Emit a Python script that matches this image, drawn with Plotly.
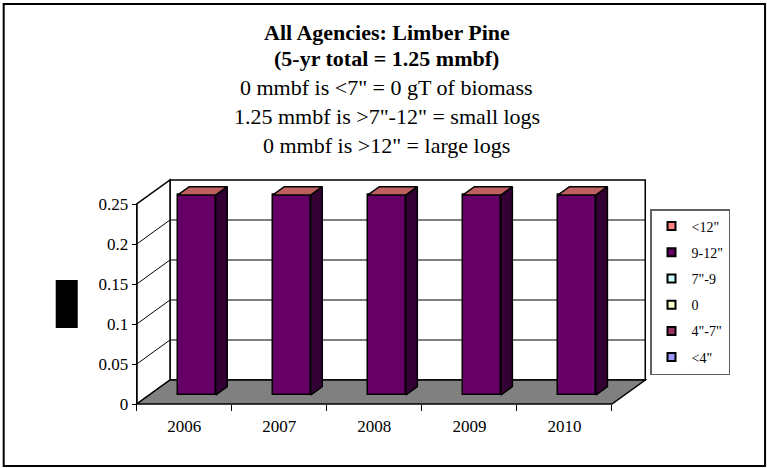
import plotly.graph_objects as go

# ---- data -------------------------------------------------------------
years = ["2006", "2007", "2008", "2009", "2010"]

# legend order (top of stack first), same as the original chart
series_names = ['<12"', '9-12"', '7"-9', '0', '4"-7"', '<4"']
series_colors = ["#FF8080", "#660066", "#CCFFFF", "#FFFFCC", "#993366", "#9999FF"]
gt12 = [0, 0, 0, 0, 0]
d9_12 = [0.25, 0.25, 0.25, 0.25, 0.25]
d7_9 = [0, 0, 0, 0, 0]
zero = [0, 0, 0, 0, 0]
d4_7 = [0, 0, 0, 0, 0]
lt4 = [0, 0, 0, 0, 0]
series_values = [gt12, d9_12, d7_9, zero, d4_7, lt4]

yticks = [0, 0.05, 0.1, 0.15, 0.2, 0.25]
ytext = ["0", "0.05", "0.1", "0.15", "0.2", "0.25"]

title_lines = [
    ("<b>All Agencies: Limber Pine</b>", 32),
    ("<b>(5-yr total = 1.25 mmbf)</b>", 59),
    ('0 mmbf is <7" = 0 gT of biomass', 87),
    ('1.25 mmbf is >7"-12" = small logs', 116),
    ('0 mmbf is >12" = large logs', 145),
]

# ---- geometry ---------------------------------------------------------
W, H = 767, 468
FONT = "Liberation Serif, Times New Roman, serif"
X0_PX, Y0_PX = 137, 404          # pixel of x=0 / y=0
PPX, PPY = 95.0, 800.0           # pixels per unit
XR = [-0.05, 5.40]
YR = [-0.005, 0.285]
ML = X0_PX + XR[0] * PPX
MR = W - (X0_PX + XR[1] * PPX)
MT = Y0_PX - YR[1] * PPY
MB = H - (Y0_PX - YR[0] * PPY)
PW, PH = W - ML - MR, H - MT - MB


def pxx(px):
    return (px - ML) / PW


def pxy(py):
    return (H - MB - py) / PH


DX, DY = 0.35, 0.03              # 3d depth of the walls
F0, FD = 0.37, 0.35              # bar front position / bar depth (fraction)
BW = 0.4
ncat = len(years)
ytop = yticks[-1]


def shade(hexcol, k):
    h = hexcol.lstrip("#")
    r, g, b = (int(h[i:i + 2], 16) for i in (0, 2, 4))
    return "#%02X%02X%02X" % (int(r * k), int(g * k), int(b * k))


fig = go.Figure()

# walls and floor
shapes = []
shapes.append(dict(type="rect", x0=DX, y0=DY, x1=ncat + DX, y1=ytop + DY,
                   fillcolor="white", line=dict(color="black", width=1.5), layer="below"))
shapes.append(dict(type="path",
                   path=f"M0,0 L{DX},{DY} L{DX},{ytop + DY} L0,{ytop} Z",
                   fillcolor="white", line=dict(color="black", width=1.5), layer="below"))
for v in yticks[1:-1]:
    shapes.append(dict(type="line", x0=DX, y0=v + DY, x1=ncat + DX, y1=v + DY,
                       line=dict(color="black", width=1), layer="below"))
for v in yticks[1:-1]:
    shapes.append(dict(type="line", x0=0, y0=v, x1=DX, y1=v + DY,
                       line=dict(color="black", width=1), layer="below"))
shapes.append(dict(type="path",
                   path=f"M0,0 L{ncat},0 L{ncat + DX},{DY} L{DX},{DY} Z",
                   fillcolor="#808080", line=dict(color="black", width=1.5), layer="below"))

# stacked bars (bottom of stack = last legend entry)
sdx, sdy = FD * DX, FD * DY
base = [F0 * DY] * ncat
xc = [i + 0.5 + F0 * DX for i in range(ncat)]
for name, col, vals in reversed(list(zip(series_names, series_colors, series_values))):
    fig.add_trace(go.Bar(
        x=xc, y=vals, base=base, width=BW, marker_color=col,
        marker_line=dict(color="black", width=1.5), showlegend=False,
        hoverinfo="skip"))
    sx, sy = [], []
    for i, v in enumerate(vals):
        if v == 0:
            continue
        xr = xc[i] + BW / 2
        sx += [xr, xr + sdx, xr + sdx, xr, xr, None]
        sy += [base[i], base[i] + sdy, base[i] + v + sdy, base[i] + v, base[i], None]
    if sx:
        fig.add_trace(go.Scatter(x=sx, y=sy, mode="lines", fill="toself",
                                 fillcolor=shade(col, 0.5),
                                 line=dict(color="black", width=1.5),
                                 showlegend=False, hoverinfo="skip"))
    base = [b + v for b, v in zip(base, vals)]

# top faces, coloured like the top series
tx, ty = [], []
for i in range(ncat):
    xl, xr = xc[i] - BW / 2, xc[i] + BW / 2
    t = base[i]
    tx += [xl, xl + sdx, xr + sdx, xr, xl, None]
    ty += [t, t + sdy, t + sdy, t, t, None]
fig.add_trace(go.Scatter(x=tx, y=ty, mode="lines", fill="toself",
                         fillcolor=shade(series_colors[0], 0.75),
                         line=dict(color="black", width=1.5),
                         showlegend=False, hoverinfo="skip"))

# legend entries
for name, col in zip(series_names, series_colors):
    fig.add_trace(go.Scatter(
        x=[None], y=[None], mode="markers", name=name, legendgroup=name,
        marker=dict(symbol="square", size=8, color=col,
                    line=dict(color="black", width=2))))

# front y-axis edge
shapes.append(dict(type="line", x0=0, y0=0, x1=0, y1=ytop,
                   line=dict(color="black", width=1.5)))

# y-axis title box (rendered as a black block in the original) and frame
shapes.append(dict(type="rect", xref="paper", yref="paper",
                   x0=pxx(56), x1=pxx(78), y0=pxy(328), y1=pxy(280),
                   fillcolor="black", line=dict(width=0)))
shapes.append(dict(type="rect", xref="paper", yref="paper",
                   x0=pxx(4), x1=pxx(765), y0=pxy(466), y1=pxy(4),
                   fillcolor="rgba(0,0,0,0)", line=dict(color="black", width=2)))

annotations = []
for txt, py in title_lines:
    annotations.append(dict(text=txt, xref="paper", yref="paper",
                            x=pxx(387), y=pxy(py), xanchor="center", yanchor="middle",
                            showarrow=False, font=dict(family=FONT, size=22, color="black")))

fig.update_layout(
    width=W, height=H,
    margin=dict(l=ML, r=MR, t=MT, b=MB, pad=0, autoexpand=False),
    paper_bgcolor="white", plot_bgcolor="white",
    barmode="overlay", bargap=0,
    font=dict(family=FONT, size=17, color="black"),
    shapes=shapes, annotations=annotations,
    xaxis=dict(range=XR, anchor="free", position=pxy(Y0_PX), automargin=False,
               tickvals=[i + 0.5 for i in range(ncat)], ticktext=years,
               ticks="", ticklabelstandoff=10, showgrid=False, zeroline=False,
               showline=False,
               minor=dict(tickvals=list(range(ncat + 1)), ticks="outside",
                          ticklen=6, tickcolor="black", tickwidth=1)),
    yaxis=dict(range=YR, anchor="free", position=pxx(X0_PX), automargin=False,
               tickvals=yticks, ticktext=ytext, ticks="outside", ticklen=5,
               tickcolor="black", showgrid=False, zeroline=False, showline=False),
    legend=dict(x=pxx(650), y=pxy(209), xanchor="left", yanchor="top",
                bgcolor="white", bordercolor="#606060", borderwidth=1.5,
                font=dict(family=FONT, size=14), traceorder="grouped",
                tracegroupgap=5, itemclick=False),
    showlegend=True,
)

# the page body has an 8px default margin; drop it so the figure sits at 0,0
fig.write_html("out.html", config={"displayModeBar": False},
               post_script="document.body.style.margin='0';")
